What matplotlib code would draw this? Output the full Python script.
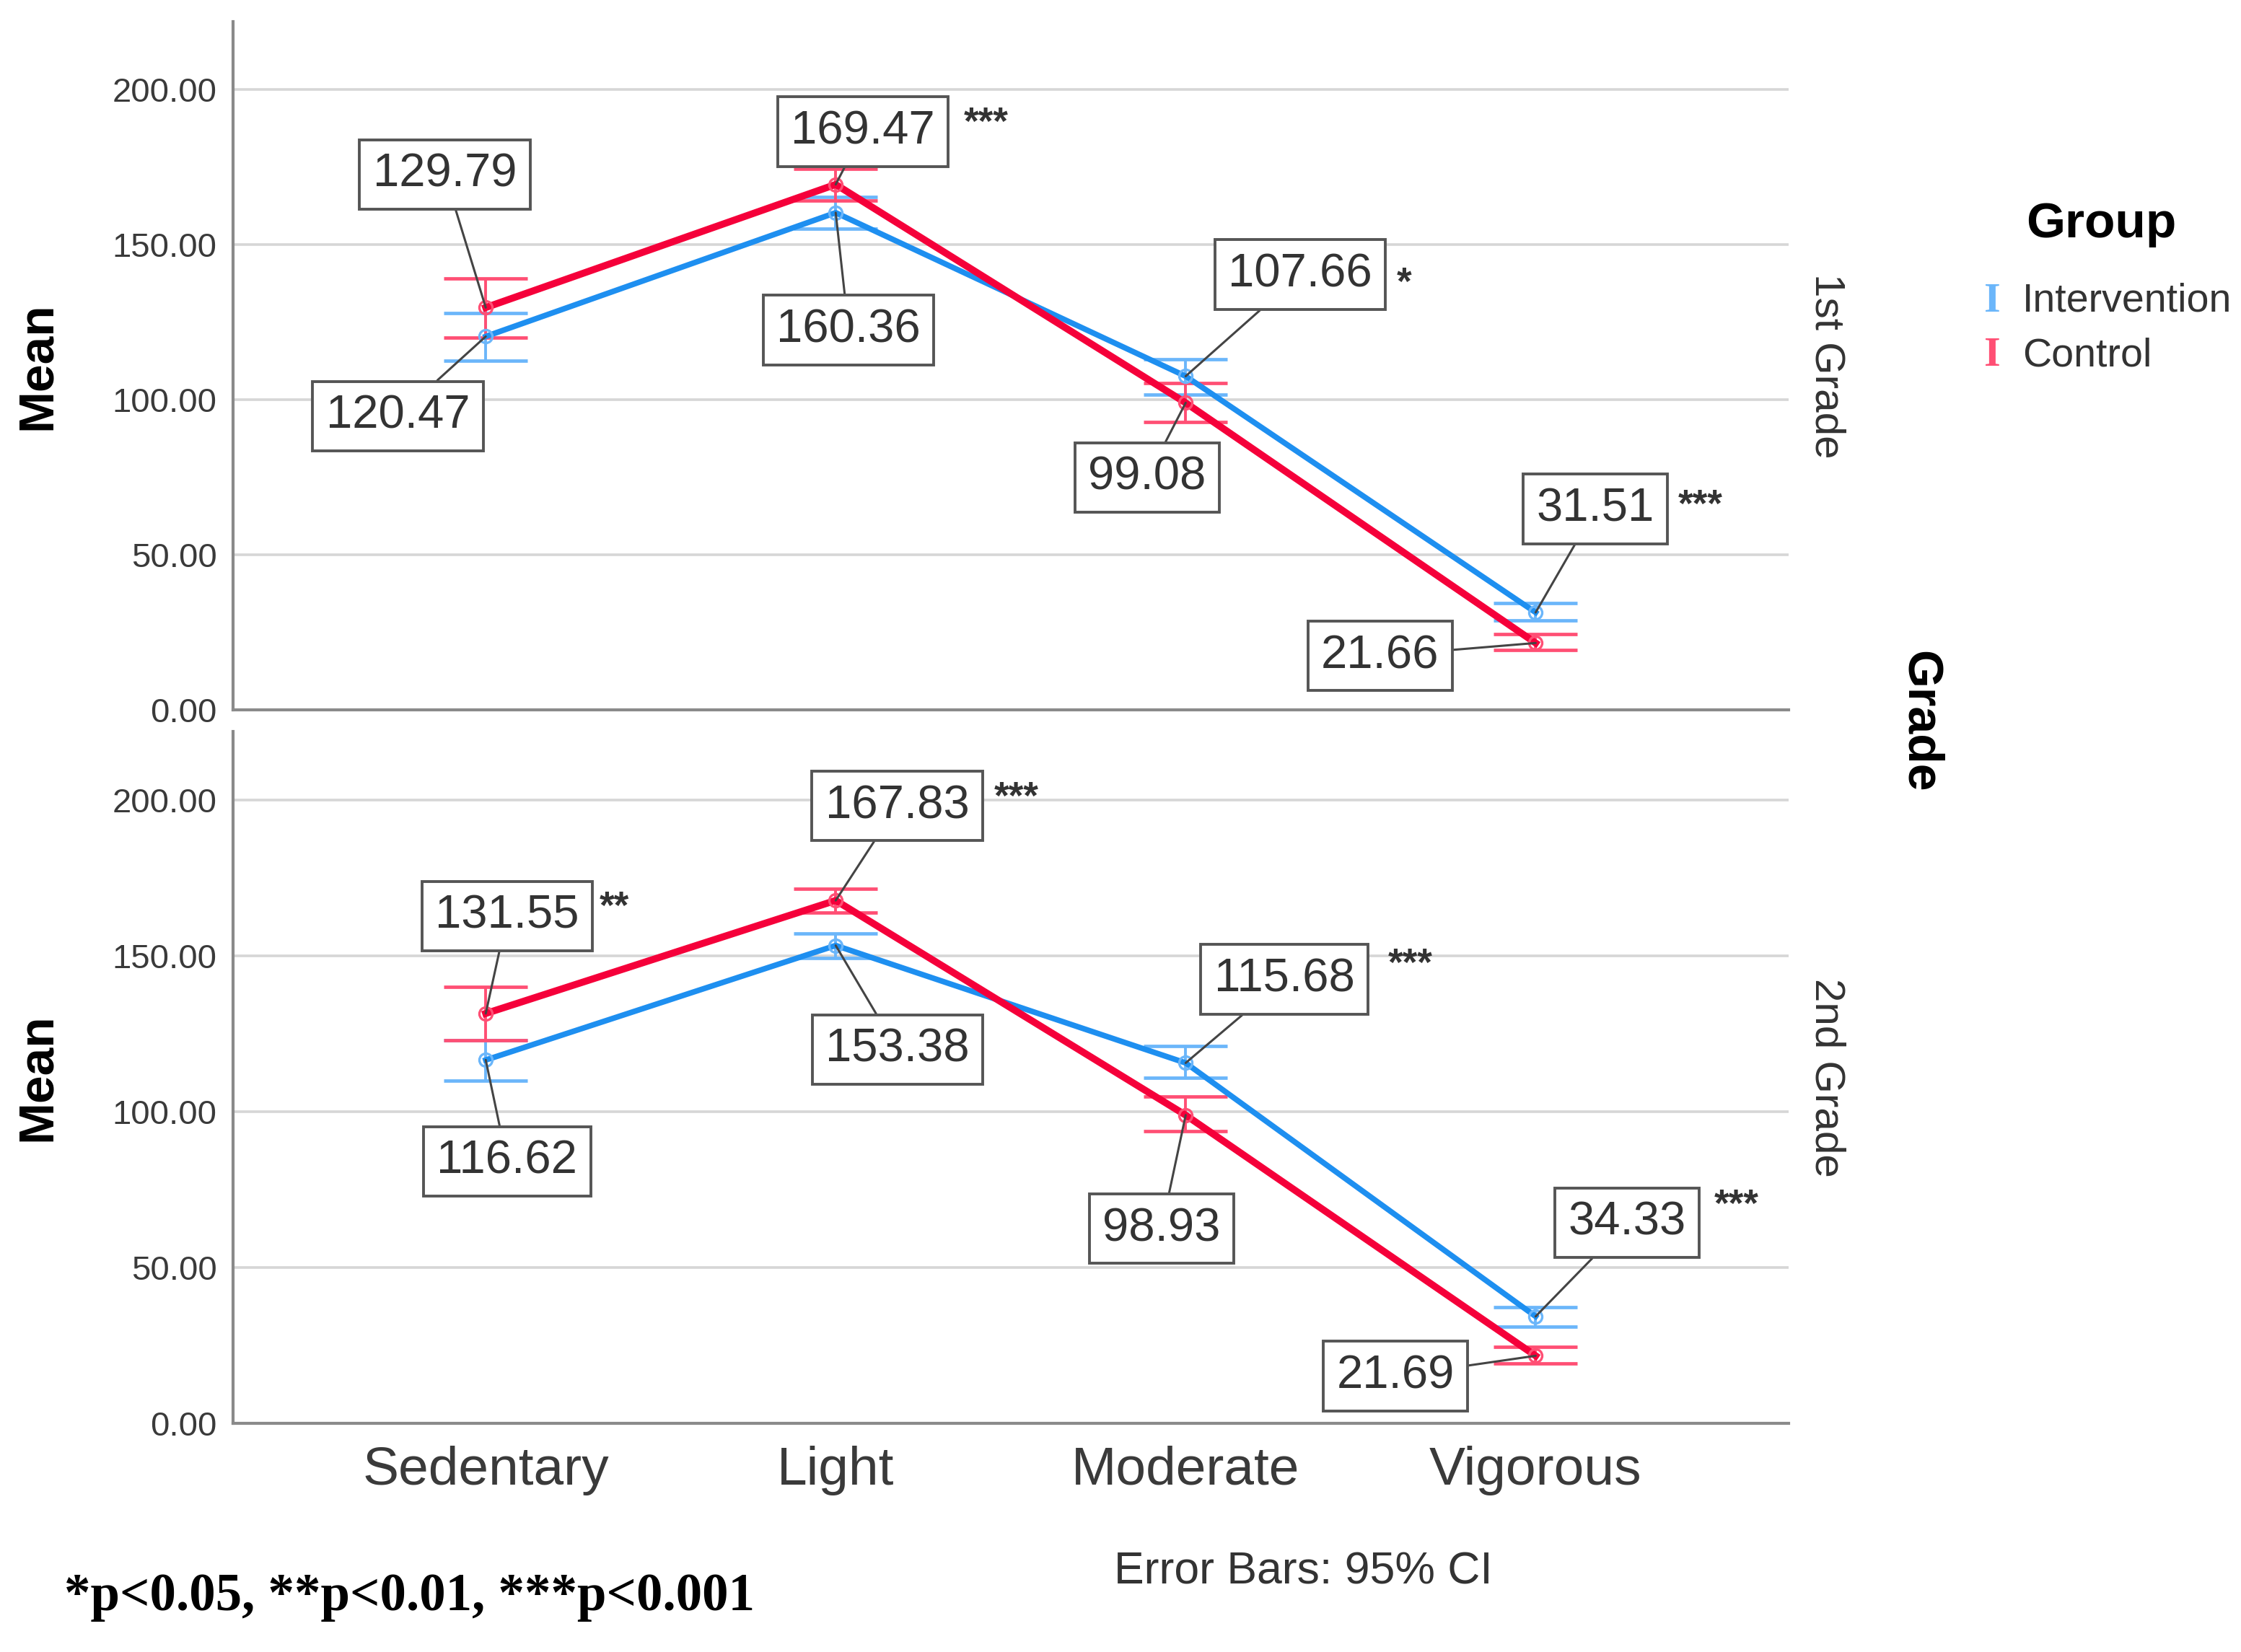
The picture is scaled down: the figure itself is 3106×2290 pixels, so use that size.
import matplotlib.pyplot as plt

# data
categories = ['Sedentary', 'Light', 'Moderate', 'Vigorous']
grades = ['1st Grade', '2nd Grade']

interv_mean = [[120.47, 160.36, 107.66, 31.51], [116.62, 153.38, 115.68, 34.33]]
interv_lo = [[112.6, 155.2, 101.8, 29.0], [109.9, 149.4, 110.9, 31.1]]
interv_hi = [[128.1, 165.5, 113.2, 34.6], [122.9, 157.3, 121.0, 37.4]]

control_mean = [[129.79, 169.47, 99.08, 21.66], [131.55, 167.83, 98.93, 21.69]]
control_lo = [[120.1, 164.3, 93.0, 19.4], [122.9, 163.9, 93.7, 19.3]]
control_hi = [[139.2, 174.5, 105.5, 24.6], [140.1, 171.6, 104.8, 24.6]]

signif = [['', '***', '*', '***'], ['**', '***', '***', '***']]

# where the value boxes and stars sit (data coords)
interv_box = [[(-0.251, 94.8), (1.037, 122.5), (2.327, 140.4), (3.171, 64.9)],
              [(0.061, 84.1), (1.176, 120.0), (2.282, 142.5), (3.261, 64.4)]]
control_box = [[(-0.117, 172.7), (1.078, 186.5), (1.890, 75.0), (2.555, 17.5)],
               [(0.061, 162.8), (1.176, 198.2), (1.931, 62.5), (2.600, 15.2)]]
star_pos = [[None, (1.367, 188.9), (2.602, 137.3), (3.408, 65.8)],
            [(0.325, 165.3), (1.453, 200.6), (2.578, 147.1), (3.51, 69.8)]]

blue = '#1E8FF0'
blue_light = '#6BB6FA'
red = '#F5003A'
red_light = '#FF4F74'

plt.rcParams['font.family'] = ['Liberation Sans', 'DejaVu Sans']

fig = plt.figure(figsize=(31.06, 22.9), dpi=100)
ax_top = fig.add_axes([0.104, 0.5701, 0.694, 0.4169])
ax_bot = fig.add_axes([0.104, 0.1384, 0.694, 0.4187])
axes = [ax_top, ax_bot]

x = list(range(len(categories)))

for g, ax in enumerate(axes):
    ax.set_xlim(-0.722, 3.722)
    ax.set_ylim(0, 222)
    ax.set_yticks([0, 50, 100, 150, 200])
    ax.set_yticklabels(['0.00', '50.00', '100.00', '150.00', '200.00'])
    for yv in [50, 100, 150, 200]:
        ax.axhline(yv, color='#d6d6d6', lw=2.6, zorder=0)
    for s in ['top', 'right']:
        ax.spines[s].set_visible(False)
    for s in ['left', 'bottom']:
        ax.spines[s].set_color('#8a8a8a')
        ax.spines[s].set_linewidth(3)
    ax.tick_params(axis='y', length=0, pad=16, labelsize=34, labelcolor='#3a3a3a')
    ax.set_xticks(x)
    if g == 0:
        ax.tick_params(axis='x', length=0, labelbottom=False)
    else:
        ax.set_xticklabels(categories)
        ax.tick_params(axis='x', length=0, pad=22, labelsize=54, labelcolor='#3a3a3a')
    ax.set_ylabel('Mean', fontsize=50, fontweight='bold', labelpad=52)

    # intervention
    ie = [[interv_mean[g][i] - interv_lo[g][i] for i in x],
          [interv_hi[g][i] - interv_mean[g][i] for i in x]]
    ax.errorbar(x, interv_mean[g], yerr=ie, fmt='none', ecolor=blue_light,
                elinewidth=2.8, capsize=42, capthick=3.4, zorder=3)
    ax.plot(x, interv_mean[g], color=blue, lw=5.6, marker='o', ms=13,
            mfc='none', mec=blue_light, mew=2.4, zorder=4)
    # control
    ce = [[control_mean[g][i] - control_lo[g][i] for i in x],
          [control_hi[g][i] - control_mean[g][i] for i in x]]
    ax.errorbar(x, control_mean[g], yerr=ce, fmt='none', ecolor=red_light,
                elinewidth=2.8, capsize=42, capthick=3.4, zorder=3)
    ax.plot(x, control_mean[g], color=red, lw=7, marker='o', ms=13,
            mfc='none', mec=red_light, mew=2.4, zorder=5)

    box = dict(boxstyle='square,pad=0.28', fc='white', ec='#555555', lw=2.8)
    for i in x:
        for val, pos in [(interv_mean[g][i], interv_box[g][i]),
                         (control_mean[g][i], control_box[g][i])]:
            ax.annotate(f'{val:.2f}', xy=(i, val), xytext=pos, ha='center', va='center',
                        fontsize=47, color='#333333', bbox=box, zorder=6,
                        arrowprops=dict(arrowstyle='-', color='#444444', lw=2.2,
                                        shrinkA=0, shrinkB=0))
        if signif[g][i]:
            sx, sy = star_pos[g][i]
            ax.text(sx, sy, signif[g][i], ha='left', va='center', fontsize=38,
                    fontweight='bold', color='#333333', zorder=6)

    cy = (ax.get_position().y0 + ax.get_position().y1) / 2
    fig.text(0.815, cy, grades[g], rotation=-90, ha='center', va='center',
             fontsize=42, color='#333333')

fig.text(0.8565, 0.563, 'Grade', rotation=-90, ha='center', va='center',
         fontsize=49, fontweight='bold')

# legend
fig.text(0.9375, 0.864, 'Group', ha='center', va='center', fontsize=50, fontweight='bold')
fig.text(0.889, 0.8175, 'I', ha='center', va='center', fontsize=42, color=blue_light,
         fontweight='bold', family=['Liberation Serif'])
fig.text(0.9024, 0.8175, 'Intervention', ha='left', va='center', fontsize=40, color='#333333')
fig.text(0.889, 0.7846, 'I', ha='center', va='center', fontsize=42, color=red_light,
         fontweight='bold', family=['Liberation Serif'])
fig.text(0.9024, 0.7846, 'Control', ha='left', va='center', fontsize=40, color='#333333')

fig.text(0.5816, 0.0484, 'Error Bars: 95% CI', ha='center', va='center', fontsize=45,
         color='#333333')
fig.text(0.0287, 0.033, '*p<0.05, **p<0.01, ***p<0.001', ha='left', va='center',
         fontsize=52.5, fontweight='bold', family=['Liberation Serif'], color='black')

fig.savefig('out.png', dpi=100, facecolor='white')
